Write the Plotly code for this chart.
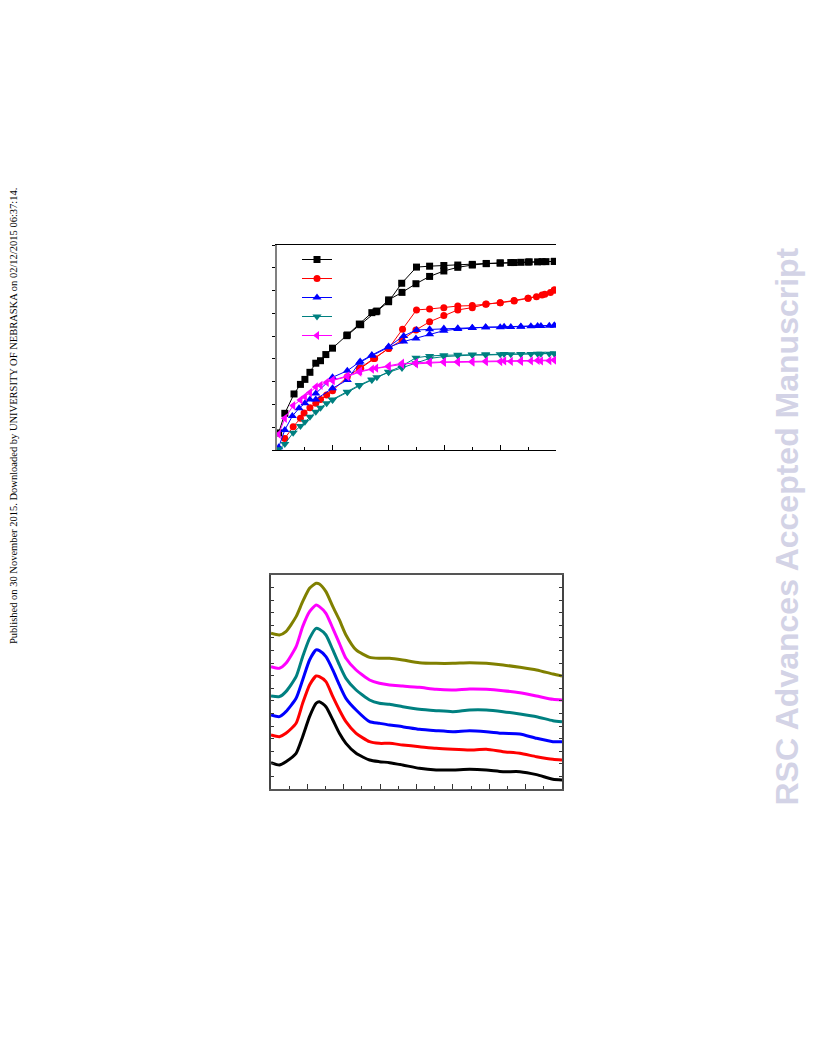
import plotly.graph_objects as go

W, H = 816, 1056

# ---------------- Top chart: isotherms (adsorption / desorption) ----------------
p_black_ads = [0.006, 0.028, 0.061, 0.084, 0.100, 0.118, 0.139, 0.156, 0.175, 0.199, 0.252, 0.295, 0.340, 0.358, 0.400, 0.448, 0.498, 0.547, 0.598, 0.648, 0.700, 0.750, 0.800, 0.838, 0.874, 0.904, 0.934, 0.964, 0.994]
v_black_ads = [0.75, 1.61, 2.46, 2.88, 3.10, 3.41, 3.81, 3.92, 4.19, 4.47, 5.05, 5.53, 6.03, 6.10, 6.59, 6.92, 7.30, 7.62, 7.86, 8.02, 8.12, 8.18, 8.21, 8.23, 8.24, 8.26, 8.26, 8.27, 8.28]
p_black_des = [0.994, 0.950, 0.900, 0.850, 0.800, 0.750, 0.700, 0.648, 0.598, 0.547, 0.500, 0.447, 0.400, 0.355, 0.300, 0.250]
v_black_des = [8.28, 8.27, 8.25, 8.23, 8.21, 8.19, 8.15, 8.12, 8.10, 8.07, 8.03, 7.32, 6.51, 6.07, 5.50, 5.02]

p_red_ads = [0.028, 0.058, 0.084, 0.097, 0.118, 0.139, 0.156, 0.178, 0.199, 0.252, 0.295, 0.346, 0.400, 0.448, 0.498, 0.547, 0.598, 0.648, 0.700, 0.748, 0.800, 0.850, 0.900, 0.930, 0.960, 0.980, 0.994]
v_red_ads = [0.51, 1.02, 1.39, 1.62, 1.85, 2.05, 2.22, 2.41, 2.60, 3.22, 3.59, 4.02, 4.46, 4.83, 5.27, 5.63, 5.91, 6.15, 6.25, 6.40, 6.47, 6.56, 6.66, 6.73, 6.84, 6.91, 7.02]
p_red_des = [0.994, 0.950, 0.900, 0.850, 0.800, 0.750, 0.700, 0.648, 0.598, 0.547, 0.500, 0.450, 0.400, 0.350, 0.300]
v_red_des = [7.02, 6.81, 6.66, 6.54, 6.47, 6.41, 6.34, 6.32, 6.25, 6.19, 6.15, 5.30, 4.46, 4.02, 3.59]

p_blue_ads = [0.006, 0.028, 0.055, 0.079, 0.100, 0.118, 0.139, 0.199, 0.252, 0.295, 0.340, 0.400, 0.454, 0.498, 0.547, 0.598, 0.648, 0.700, 0.748, 0.800, 0.838, 0.874, 0.910, 0.946, 0.976, 0.994]
v_blue_ads = [0.12, 0.88, 1.49, 1.83, 2.05, 2.22, 2.22, 2.71, 3.07, 3.83, 4.14, 4.51, 4.76, 4.90, 5.08, 5.24, 5.31, 5.36, 5.39, 5.39, 5.40, 5.41, 5.43, 5.44, 5.46, 5.47]
p_blue_des = [0.994, 0.934, 0.874, 0.814, 0.748, 0.700, 0.648, 0.598, 0.547, 0.500, 0.454, 0.400, 0.340, 0.298, 0.252, 0.199, 0.139]
v_blue_des = [5.47, 5.44, 5.42, 5.41, 5.39, 5.37, 5.34, 5.33, 5.30, 5.27, 5.01, 4.54, 4.17, 3.88, 3.48, 3.19, 2.48]

p_teal_ads = [0.006, 0.028, 0.058, 0.084, 0.100, 0.118, 0.139, 0.156, 0.178, 0.199, 0.252, 0.295, 0.340, 0.358, 0.400, 0.448, 0.498, 0.547, 0.598, 0.648, 0.700, 0.748, 0.800, 0.838, 0.874, 0.910, 0.946, 0.976, 0.994]
v_teal_ads = [0.03, 0.26, 0.76, 1.05, 1.24, 1.46, 1.68, 1.86, 2.05, 2.20, 2.53, 2.82, 3.07, 3.19, 3.41, 3.60, 3.81, 4.02, 4.10, 4.14, 4.17, 4.17, 4.20, 4.20, 4.21, 4.21, 4.23, 4.23, 4.24]
p_teal_des = [0.994, 0.934, 0.874, 0.814, 0.748, 0.700, 0.648, 0.598, 0.547, 0.498, 0.448, 0.400, 0.340, 0.295, 0.252, 0.199]
v_teal_des = [4.24, 4.23, 4.22, 4.21, 4.20, 4.19, 4.18, 4.16, 4.13, 4.05, 3.69, 3.44, 3.10, 2.85, 2.56, 2.22]

p_mag_ads = [0.006, 0.028, 0.058, 0.084, 0.100, 0.118, 0.139, 0.156, 0.178, 0.199, 0.252, 0.298, 0.355, 0.400, 0.448, 0.498, 0.547, 0.598, 0.648, 0.700, 0.748, 0.800, 0.838, 0.874, 0.910, 0.946, 0.976, 0.994]
v_mag_ads = [0.69, 1.39, 1.95, 2.20, 2.34, 2.52, 2.77, 2.84, 2.97, 3.07, 3.25, 3.47, 3.59, 3.69, 3.81, 3.78, 3.83, 3.85, 3.85, 3.86, 3.88, 3.88, 3.89, 3.89, 3.91, 3.91, 3.92, 3.95]
p_mag_des = [0.994, 0.934, 0.874, 0.814, 0.748, 0.700, 0.648, 0.598, 0.547, 0.498, 0.448, 0.400, 0.340, 0.295, 0.252, 0.199]
v_mag_des = [3.95, 3.93, 3.92, 3.91, 3.90, 3.89, 3.88, 3.87, 3.86, 3.84, 3.76, 3.66, 3.55, 3.42, 3.22, 3.05]

# ---------------- Bottom chart: XRD patterns ----------------
two_theta = [10.0, 12.3, 14.1, 16.9, 18.7, 20.6, 22.4, 23.3, 25.1, 27.0, 28.8, 30.6, 33.4, 37.1, 39.8, 42.6, 46.2, 50.8, 55.4, 60.0, 64.6, 69.2, 73.8, 78.4, 83.0, 87.5, 90.0]
xrd_black = [578, 585, 575, 550, 500, 440, 400, 395, 410, 450, 490, 520, 550, 570, 575, 578, 585, 595, 600, 600, 598, 600, 605, 605, 614, 628, 630]
xrd_red = [495, 500, 490, 460, 400, 345, 318, 320, 335, 380, 420, 455, 490, 515, 520, 520, 525, 530, 535, 538, 540, 538, 545, 550, 560, 568, 570]
xrd_blue = [435, 440, 425, 385, 330, 270, 240, 242, 260, 300, 345, 385, 420, 455, 460, 465, 470, 478, 482, 485, 482, 485, 490, 492, 505, 515, 515]
xrd_teal = [378, 380, 365, 320, 260, 205, 175, 178, 195, 240, 285, 325, 360, 390, 400, 403, 410, 418, 422, 425, 420, 420, 425, 432, 440, 452, 455]
xrd_magenta = [290, 295, 280, 230, 170, 125, 105, 110, 130, 175, 220, 265, 300, 330, 340, 345, 348, 352, 358, 360, 357, 358, 362, 368, 378, 388, 390]
xrd_olive = [190, 195, 185, 140, 95, 55, 40, 42, 65, 110, 150, 195, 240, 262, 265, 265, 270, 278, 280, 280, 278, 280, 285, 292, 300, 312, 318]
# values above were read as picture rows (larger = lower); convert to intensity units
def to_int(rows):
    return [(657 - r) / 37.76 for r in rows]

iso_series = [
    ("black", "square", 7, p_black_ads, v_black_ads, p_black_des, v_black_des),
    ("#FF0000", "circle", 7, p_red_ads, v_red_ads, p_red_des, v_red_des),
    ("#0000FF", "triangle-up", 8, p_blue_ads, v_blue_ads, p_blue_des, v_blue_des),
    ("#008080", "triangle-down", 8, p_teal_ads, v_teal_ads, p_teal_des, v_teal_des),
    ("#FF00FF", "triangle-left", 8, p_mag_ads, v_mag_ads, p_mag_des, v_mag_des),
]

xrd_series = [
    ("black", xrd_black), ("#FF0000", xrd_red), ("#0000FF", xrd_blue),
    ("#008080", xrd_teal), ("#FF00FF", xrd_magenta), ("#808000", xrd_olive),
]

fig = go.Figure()

for color, sym, msz, pa, va, pd_, vd in iso_series:
    fig.add_trace(go.Scatter(x=pa, y=va, mode="lines+markers", name=" ",
                             line=dict(color=color, width=1),
                             marker=dict(symbol=sym, size=msz, color=color),
                             xaxis="x", yaxis="y", showlegend=True, legendgroup=color))
    fig.add_trace(go.Scatter(x=pd_, y=vd, mode="lines+markers", name=" ",
                             line=dict(color=color, width=1),
                             marker=dict(symbol=sym, size=msz, color=color),
                             xaxis="x", yaxis="y", showlegend=False, legendgroup=color))

for color, rows in xrd_series:
    fig.add_trace(go.Scatter(x=two_theta, y=to_int(rows), mode="lines",
                             line=dict(color=color, width=3, shape="spline", smoothing=0.6),
                             xaxis="x2", yaxis="y3", showlegend=False))

def px_x(a, b):
    return [a / W, b / W]

def px_y(top, bottom):
    return [1 - bottom / H, 1 - top / H]

top_dx = px_x(277, 556)
top_dy = px_y(245, 450)
bot_dx = px_x(271, 562)
bot_dy = px_y(575, 789)

fig.update_layout(
    width=W, height=H, margin=dict(l=0, r=0, t=0, b=0),
    paper_bgcolor="white", plot_bgcolor="white",
    showlegend=True,
    legend=dict(x=297 / W, y=1 - 245 / H, xanchor="left", yanchor="top",
                bgcolor="rgba(0,0,0,0)", font=dict(size=8, color="black"),
                itemwidth=30, tracegroupgap=0),
    xaxis=dict(domain=top_dx, anchor="y", range=[0, 1], showgrid=False, zeroline=False,
               showline=True, linecolor="black", linewidth=1, mirror=True,
               ticks="inside", ticklen=5, tickcolor="black", dtick=0.2, tick0=0,
               minor=dict(ticks="inside", ticklen=3, dtick=0.1, tickcolor="black"),
               showticklabels=False),
    yaxis=dict(domain=top_dy, anchor="x", range=[0, 9], showgrid=False, zeroline=False,
               showline=True, linecolor="#808080", linewidth=2,
               ticks="outside", ticklen=3, tickcolor="black", dtick=1, tick0=0,
               showticklabels=False),
    yaxis2=dict(overlaying="y", anchor="x", side="right", range=[0, 9], showgrid=False,
                zeroline=False, showline=True, linecolor="black", linewidth=1,
                ticks="inside", ticklen=3, tickcolor="black", dtick=1, tick0=0,
                showticklabels=False),
    xaxis2=dict(domain=bot_dx, anchor="y3", range=[10, 90], showgrid=False, zeroline=False,
                showline=True, linecolor="#555555", linewidth=1.5, mirror=True,
                ticks="inside", ticklen=5, tickcolor="#333333", dtick=10, tick0=10,
                minor=dict(ticks="inside", ticklen=3, dtick=5, tickcolor="#333333"),
                showticklabels=False),
    yaxis3=dict(domain=bot_dy, anchor="x2", range=[0, 17], showgrid=False, zeroline=False,
                showline=True, linecolor="#444444", linewidth=1.5, mirror="ticks",
                ticks="inside", ticklen=3, tickcolor="#333333", dtick=1, tick0=0,
                showticklabels=False),
)

fig.add_annotation(
    text="Published on 30 November 2015. Downloaded by UNIVERSITY OF NEBRASKA on 02/12/2015 06:37:14.",
    xref="paper", yref="paper", x=13.5 / W, y=1 - 416.5 / H, xanchor="center", yanchor="middle",
    textangle=-90, showarrow=False,
    font=dict(family="Liberation Serif, Times New Roman, serif", size=10.5, color="black"))

fig.add_annotation(
    text="<b>RSC Advances Accepted Manuscript</b>",
    xref="paper", yref="paper", x=786.5 / W, y=1 - 527 / H, xanchor="center", yanchor="middle",
    textangle=-90, showarrow=False,
    font=dict(family="Liberation Sans, Arial, sans-serif", size=32, color="#D3D3E6"))

fig.write_html("out.html", post_script="document.body.style.margin='0px';",
               config={"displayModeBar": False})
